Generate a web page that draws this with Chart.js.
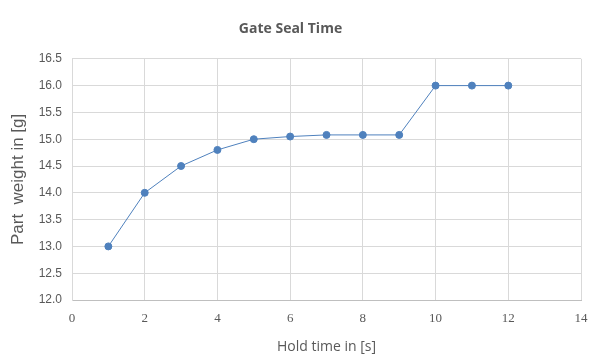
<!DOCTYPE html>
<html lang="en">
<head>
    <meta charset="UTF-8">
    <title>Gate Seal Time</title>
    <script src="https://cdn.jsdelivr.net/npm/chart.js"></script>
    <style>
        body {
            margin: 0;
            padding: 0;
            background: #fff;
        }

        .chart-container {
            width: 611px;
            height: 364px;
        }
    </style>
</head>
<body>

    <div class="chart-container">
        <canvas id="sealChart"></canvas>
    </div>

    <script>
        // Data
        const holdTime = [1, 2, 3, 4, 5, 6, 7, 8, 9, 10, 11, 12];
        const partWeight = [13.0, 14.0, 14.5, 14.8, 15.0, 15.05, 15.08, 15.08, 15.08, 16.0, 16.0, 16.0];

        const xTicks = [0, 2, 4, 6, 8, 10, 12, 14];
        const yTicks = [12.0, 12.5, 13.0, 13.5, 14.0, 14.5, 15.0, 15.5, 16.0, 16.5];

        const points = holdTime.map((x, i) => ({ x: x, y: partWeight[i] }));

        const ctx = document.getElementById('sealChart').getContext('2d');

        const sealChart = new Chart(ctx, {
            type: 'scatter',
            data: {
                datasets: [{
                    label: 'Part weight',
                    data: points,
                    showLine: true,
                    borderColor: '#4f81bd',
                    backgroundColor: '#4f81bd',
                    borderWidth: 1,
                    pointRadius: 3.5,
                    pointHoverRadius: 4
                }]
            },
            options: {
                responsive: true,
                maintainAspectRatio: false,
                animation: false,
                layout: {
                    padding: { left: 0, right: 30, top: 0, bottom: 0 }
                },
                plugins: {
                    legend: { display: false },
                    tooltip: { enabled: false },
                    title: {
                        display: true,
                        text: 'Gate Seal Time',
                        color: '#595959',
                        font: { family: 'Open Sans', size: 14, weight: 'bold' },
                        padding: { top: 21, bottom: 21 }
                    }
                },
                scales: {
                    x: {
                        type: 'linear',
                        min: xTicks[0],
                        max: xTicks[xTicks.length - 1],
                        afterBuildTicks: function (scale) {
                            scale.ticks = xTicks.map(v => ({ value: v }));
                        },
                        afterFit: function (scale) {
                            scale.height = 64;
                        },
                        grid: {
                            color: '#d9d9d9',
                            drawTicks: false
                        },
                        border: { color: '#bfbfbf' },
                        ticks: {
                            color: '#595959',
                            padding: 11,
                            font: { family: 'Liberation Serif', size: 13 }
                        },
                        title: {
                            display: true,
                            text: 'Hold time in [s]',
                            color: '#595959',
                            font: { family: 'Open Sans', size: 14 },
                            padding: { top: 9, bottom: 9 }
                        }
                    },
                    y: {
                        type: 'linear',
                        min: yTicks[0],
                        max: yTicks[yTicks.length - 1],
                        afterBuildTicks: function (scale) {
                            scale.ticks = yTicks.map(v => ({ value: v }));
                        },
                        afterFit: function (scale) {
                            scale.width = 72;
                        },
                        grid: {
                            color: '#d9d9d9',
                            drawTicks: false
                        },
                        border: { color: '#d9d9d9' },
                        ticks: {
                            color: '#595959',
                            padding: 10,
                            font: { family: 'Liberation Sans', size: 12 },
                            callback: function (value) {
                                return value.toFixed(1);
                            }
                        },
                        title: {
                            display: true,
                            text: 'Part  weight in [g]',
                            color: '#595959',
                            font: { family: 'Liberation Sans', size: 17 },
                            padding: { top: 8, bottom: 8 }
                        }
                    }
                }
            }
        });
    </script>
</body>
</html>
